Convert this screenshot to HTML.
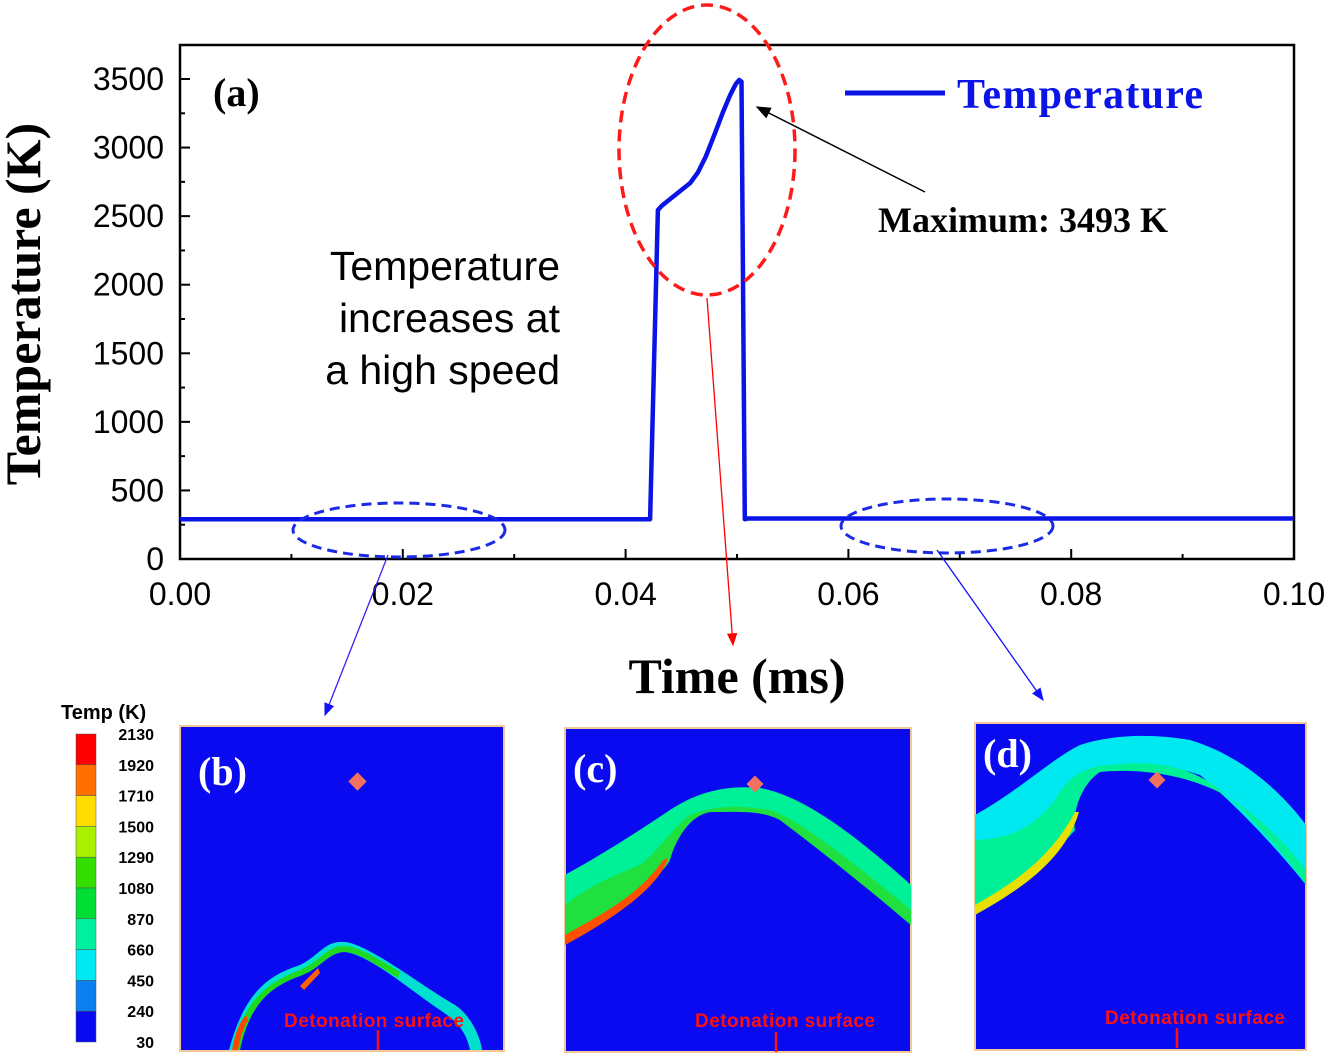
<!DOCTYPE html>
<html><head><meta charset="utf-8"><style>
html,body{margin:0;padding:0;background:#fff;}
svg{display:block;}
.tk{font-family:"Liberation Sans",sans-serif;font-size:32px;fill:#000;}
.ser{font-family:"Liberation Serif",serif;font-weight:bold;}
.cb{font-family:"Liberation Sans",sans-serif;font-weight:bold;font-size:16px;}
.det{font-family:"Liberation Sans",sans-serif;font-weight:bold;font-size:19px;fill:#ff1010;}
</style></head><body>
<svg id="s" width="1334" height="1061" viewBox="0 0 1334 1061" xmlns="http://www.w3.org/2000/svg">
<defs>
<marker id="ah" markerWidth="10" markerHeight="8" refX="9" refY="4" orient="auto"><path d="M0,0 L10,4 L0,8 z" fill="#000"/></marker>
<marker id="ahr" markerWidth="10" markerHeight="8" refX="9" refY="4" orient="auto"><path d="M0,0 L10,4 L0,8 z" fill="#ff0000"/></marker>
<marker id="ahb" markerWidth="10" markerHeight="8" refX="9" refY="4" orient="auto"><path d="M0,0 L10,4 L0,8 z" fill="#1010ff"/></marker>
</defs>
<g id="chart"></g>
<g>
<text x="213" y="106" class="ser" font-size="40">(a)</text>
<line x1="845" y1="93" x2="945" y2="93" stroke="#0a14e6" stroke-width="5"/>
<text x="957" y="108" class="ser" font-size="42" fill="#0a14e6" textLength="246">Temperature</text>
<text x="878" y="232" class="ser" font-size="36">Maximum: 3493 K</text>
<line x1="925" y1="192" x2="757" y2="107" stroke="#000" stroke-width="1.5" marker-end="url(#ah)"/>
<g class="tk" text-anchor="end">
<text x="560" y="280" style="font-size:41px">Temperature</text>
<text x="560" y="332" style="font-size:41px">increases at</text>
<text x="560" y="384" style="font-size:41px">a high speed</text></g>
<ellipse cx="707" cy="150" rx="88" ry="145" fill="none" stroke="#ff1a1a" stroke-width="3.5" stroke-dasharray="12,7"/>
<ellipse cx="399" cy="530" rx="106" ry="27" fill="none" stroke="#1a2ae6" stroke-width="3" stroke-dasharray="10,6"/>
<ellipse cx="947" cy="526" rx="106" ry="27" fill="none" stroke="#1a2ae6" stroke-width="3" stroke-dasharray="10,6"/>
<line x1="707" y1="298" x2="733" y2="645" stroke="#ff0000" stroke-width="1.3" marker-end="url(#ahr)"/>
<line x1="388" y1="555" x2="325" y2="715" stroke="#3322ee" stroke-width="1.3" marker-end="url(#ahb)"/>
<line x1="937" y1="550" x2="1043" y2="700" stroke="#1010ff" stroke-width="1.3" marker-end="url(#ahb)"/>
</g>
<g id="colorbar">
<text x="61" y="719" class="cb" style="font-size:20px">Temp (K)</text>
</g>
<g>
<rect x="180" y="726" width="324" height="325" fill="#0a0af0" stroke="#f5c89a" stroke-width="2"/>
<path d="M229,1050 C245,990 270,975 300,965 C320,955 325,940 345,942 C370,945 420,985 455,1005 C470,1015 480,1035 482,1050 L470,1050 C466,1030 455,1020 440,1010 C410,990 370,955 345,952 C328,952 322,968 300,976 C275,985 250,1000 240,1050 Z" fill="#00e0d0"/>
<path d="M232,1050 C246,995 270,982 300,970 C322,960 328,945 345,946 C360,947 380,960 400,972 L398,978 C378,966 360,953 345,952 C328,952 322,968 300,976 C275,985 250,1000 240,1050 Z" fill="#20d820"/>
<path d="M232,1050 C236,1030 240,1022 246,1015 L248,1020 C243,1028 240,1038 238,1050Z" fill="#ff4400"/>
<path d="M300,986 L318,968 L320,973 L304,990Z" fill="#ff6000"/>
<rect x="351" y="775" width="13" height="13" fill="#f27060" transform="rotate(45 357.5 781.5)"/>
<text x="198" y="785" class="ser" font-size="40" fill="#fff">(b)</text>
<text x="284" y="1027" class="det" textLength="180">Detonation surface</text>
<line x1="378" y1="1030" x2="378" y2="1050" stroke="#ff1010" stroke-width="2.5"/>
</g>
<g>
<rect x="565" y="728" width="346" height="324" fill="#0a0af0" stroke="#f5c89a" stroke-width="2"/>
<path d="M565,875 C610,850 640,830 670,810 C700,790 730,785 760,788 C800,795 850,830 911,885 L911,925 C870,890 820,850 780,820 C760,810 740,810 710,812 C690,815 675,840 670,860 C660,880 600,920 565,940 Z" fill="#00f098"/>
<path d="M565,905 C590,885 615,875 640,865 C660,850 670,830 690,815 C715,805 740,805 770,810 C800,820 850,860 911,910 L911,925 C870,890 820,850 780,820 C760,810 740,812 710,812 C690,815 675,840 670,860 C660,880 600,920 565,940 Z" fill="#20e040"/>
<path d="M565,935 C600,915 640,895 663,860 L668,858 C660,885 620,915 565,945Z" fill="#ff5000"/>
<rect x="749" y="778" width="12" height="12" fill="#f27060" transform="rotate(45 755 784)"/>
<text x="573" y="782" class="ser" font-size="40" fill="#fff">(c)</text>
<text x="695" y="1027" class="det" textLength="180">Detonation surface</text>
<line x1="776" y1="1032" x2="776" y2="1052" stroke="#ff1010" stroke-width="2.5"/>
</g>
<g>
<rect x="975" y="723" width="331" height="327" fill="#0a0af0" stroke="#f5c89a" stroke-width="2"/>
<path d="M975,815 C1020,790 1050,760 1080,745 C1110,735 1150,733 1190,740 C1240,755 1280,790 1306,825 L1306,885 C1270,840 1230,800 1200,775 C1170,765 1130,760 1100,770 C1075,790 1070,820 1075,830 C1040,870 1000,895 975,912 Z" fill="#00e8f0"/>
<path d="M975,840 C1010,838 1030,830 1055,800 C1065,780 1085,765 1110,765 C1150,760 1190,765 1220,790 C1250,815 1285,855 1306,885 L1306,870 C1280,835 1240,800 1210,788 C1180,775 1140,768 1100,772 C1080,785 1072,815 1075,830 C1040,870 1000,895 975,912 Z" fill="#00f098"/>
<path d="M975,905 C1010,885 1050,860 1075,812 L1079,812 C1065,860 1020,890 975,915Z" fill="#e8e000"/>
<rect x="1151" y="774" width="12" height="12" fill="#f27060" transform="rotate(45 1157 780)"/>
<text x="983" y="767" class="ser" font-size="40" fill="#fff">(d)</text>
<text x="1105" y="1024" class="det" textLength="180">Detonation surface</text>
<line x1="1177" y1="1028" x2="1177" y2="1048" stroke="#ff1010" stroke-width="2.5"/>
</g>
</svg>
<script>
const timeMs = [0, 0.0422, 0.0429, 0.0433, 0.0440, 0.0450, 0.0458, 0.0465, 0.0472, 0.0480, 0.0487, 0.0494, 0.0499, 0.0502, 0.0504, 0.0507, 0.051, 0.08, 0.1];
const tempK = [290, 290, 2545, 2580, 2625, 2690, 2742, 2820, 2935, 3100, 3250, 3385, 3465, 3493, 3480, 290, 295, 295, 295];
const xTicks = [0, 0.02, 0.04, 0.06, 0.08, 0.10];
const xTickLabels = ["0.00", "0.02", "0.04", "0.06", "0.08", "0.10"];
const yTicks = [0, 500, 1000, 1500, 2000, 2500, 3000, 3500];
const cbColors = ["#ff0000","#ff7000","#ffdd00","#aaf000","#33dd00","#00dd33","#00f0a0","#00e8f0","#0a80f0","#0a0af0"];
const cbLabels = ["2130","1920","1710","1500","1290","1080","870","660","450","240","30"];

const NS = "http://www.w3.org/2000/svg";
const X0 = 180, X1 = 1294, Y0 = 559, YT = 45;
const xS = v => X0 + v / 0.1 * (X1 - X0);
const yS = v => Y0 - v / 3500 * 480;
function mk(tag, attrs, parent) { const e = document.createElementNS(NS, tag); for (const k in attrs) e.setAttribute(k, attrs[k]); parent.appendChild(e); return e; }
const g = document.getElementById('chart');
const frame = mk('rect', {x: X0, y: YT, width: X1 - X0, height: Y0 - YT, fill: 'none', stroke: '#000', 'stroke-width': 2.5}, g);


xTicks.forEach((t, i) => {
  const x = xS(t);
  const tk = mk('line', {x1: x, y1: Y0, x2: x, y2: Y0 - 10, stroke: '#000', 'stroke-width': 2}, g);
  
  
  if (i < xTicks.length - 1) { const xm = xS(t + 0.01); const m = mk('line', {x1: xm, y1: Y0, x2: xm, y2: Y0 - 5, stroke: '#000', 'stroke-width': 2}, g);   }
  const lb = mk('text', {x: x, y: Y0 + 46, 'text-anchor': 'middle', class: 'tk'}, g);
  lb.textContent = xTickLabels[i];
  
  
});
yTicks.forEach((t, i) => {
  const y = yS(t);
  const tk = mk('line', {x1: X0, y1: y, x2: X0 + 10, y2: y, stroke: '#000', 'stroke-width': 2}, g);
  
  
  if (i < yTicks.length - 1) { const ym = yS(t + 250); const m = mk('line', {x1: X0, y1: ym, x2: X0 + 5, y2: ym, stroke: '#000', 'stroke-width': 2}, g);   }
  const lb = mk('text', {x: X0 - 16, y: y + 11, 'text-anchor': 'end', class: 'tk'}, g);
  lb.textContent = String(t);
  
  
});
const xt = mk('text', {x: 737, y: 693, 'text-anchor': 'middle', class: 'ser', 'font-size': 50}, g);
xt.textContent = 'Time (ms)';


const yt = mk('text', {x: 40, y: 304, 'text-anchor': 'middle', class: 'ser', 'font-size': 50, transform: 'rotate(-90 40 304)'}, g);
yt.textContent = 'Temperature (K)';


const pts = timeMs.map((t, i) => xS(t).toFixed(1) + ',' + yS(tempK[i]).toFixed(1)).join(' ');
const line = mk('polyline', {points: pts, fill: 'none', stroke: '#0a14e6', 'stroke-width': 4.5, 'stroke-linejoin': 'round'}, g);



const cb = document.getElementById('colorbar');
const cbTop = 734, cbBot = 1042, segH = (cbBot - cbTop) / cbColors.length;
cbColors.forEach((c, i) => {
  const r = mk('rect', {x: 76, y: cbTop + i * segH, width: 20, height: segH, fill: c, stroke: '#555', 'stroke-width': 0.5}, cb);
  
  
});
cbLabels.forEach((l, i) => {
  const t = mk('text', {x: 154, y: cbTop + i * segH + 6, 'text-anchor': 'end', class: 'cb'}, cb);
  t.textContent = l;
  
  
});
</script>
</body></html>
